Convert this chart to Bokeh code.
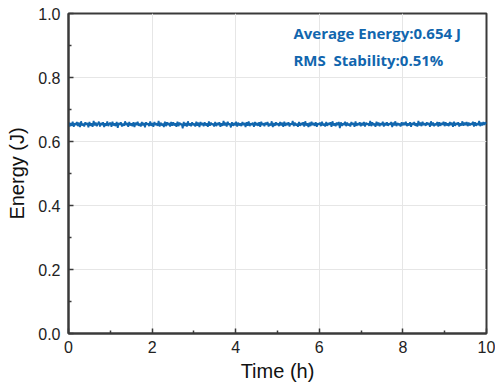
import numpy as np
from bokeh.plotting import figure
from bokeh.models import FixedTicker, PrintfTickFormatter, Range1d, Label
from bokeh.embed import file_html
from bokeh.resources import INLINE

# Pulse energy readings in mJ, sampled evenly across the 10 h run
energy_mJ = [
    660,647,658,649,662,646,657,651,661,648,659,645,663,650,656,647,660,652,658,644,
    661,649,657,646,664,650,659,648,655,662,647,658,651,660,645,657,649,663,648,656,
    659,646,662,650,657,648,661,643,658,652,660,647,656,649,663,651,658,646,661,650,
    657,648,660,645,659,651,662,649,656,647,661,650,658,644,660,652,657,648,663,649,
    658,646,661,651,657,649,664,647,659,650,656,645,662,648,660,651,658,647,661,649,
    660,650,657,646,662,648,659,652,656,641,661,649,658,647,663,650,657,648,660,651,
    656,647,662,649,659,645,661,651,658,648,660,650,657,646,663,649,659,652,656,647,
    661,648,658,651,660,646,657,649,664,650,659,647,662,652,656,644,660,649,658,650,
    662,647,659,650,657,648,661,651,658,645,660,649,663,648,657,651,659,646,661,650,
    658,649,660,646,662,651,657,648,659,652,661,647,656,650,663,645,658,649,660,651,
    657,648,661,650,659,646,662,649,658,651,660,647,657,652,664,648,659,650,656,646,
    661,649,658,651,660,647,663,650,657,645,659,648,662,651,658,649,660,646,657,652,
    659,648,662,650,656,647,661,649,658,652,660,646,663,650,657,648,659,651,661,642,
    660,649,657,651,662,648,659,650,656,647,661,652,658,646,663,649,657,651,660,648,
    658,650,661,647,659,652,657,649,664,648,660,651,656,646,662,650,659,648,657,651,
    662,647,658,650,660,649,657,652,661,645,659,650,663,648,658,651,656,647,660,650,
    659,651,662,648,657,650,660,646,658,652,661,649,657,647,664,650,659,648,662,651,
    657,649,660,652,658,646,663,650,659,648,656,651,661,647,660,649,658,652,662,648,
    660,650,657,648,661,651,659,646,662,649,658,652,660,647,657,650,663,649,659,651,
    661,648,659,650,657,652,662,647,660,649,658,651,664,648,659,650,661,652,660,655,
]
energy = [v / 1000.0 for v in energy_mJ]
time_h = np.linspace(0, 10, len(energy))

x_ticks = [0, 2, 4, 6, 8, 10]
x_minor = [1, 3, 5, 7, 9]
y_ticks = [0.0, 0.2, 0.4, 0.6, 0.8, 1.0]
y_minor = [0.1, 0.3, 0.5, 0.7, 0.9]
annot_lines = ["Average Energy:0.654 J", "RMS\u00a0 Stability:0.51%"]
annot_y = [0.907, 0.822]

BLUE = "#1166ae"
DARK = "#3a3a3a"
FONT = "Liberation Sans"

p = figure(width=495, height=386, output_backend="svg", toolbar_location=None,
           x_range=Range1d(0, 10), y_range=Range1d(0, 1.0),
           min_border_left=68, min_border_right=9, min_border_top=13, min_border_bottom=53)

p.line(time_h, energy, line_color=BLUE, line_width=1.8)

p.outline_line_color = DARK
p.outline_line_width = 2
p.background_fill_color = "white"
p.border_fill_color = "white"

for ax in (p.xaxis[0], p.yaxis[0]):
    ax.axis_line_color = DARK
    ax.axis_line_width = 2
    ax.major_tick_line_color = DARK
    ax.minor_tick_line_color = DARK
    ax.major_tick_line_width = 1.5
    ax.minor_tick_line_width = 1.5
    ax.major_tick_in = 5
    ax.major_tick_out = 0
    ax.minor_tick_in = 3
    ax.minor_tick_out = 0
    ax.major_label_text_font = FONT
    ax.major_label_text_font_size = "16px"
    ax.major_label_text_color = "#222222"
    ax.axis_label_text_font = FONT
    ax.axis_label_text_font_size = "20px"
    ax.axis_label_text_font_style = "normal"
    ax.axis_label_text_color = "#111111"

p.xaxis.ticker = FixedTicker(ticks=x_ticks, minor_ticks=x_minor)
p.yaxis.ticker = FixedTicker(ticks=y_ticks, minor_ticks=y_minor)
p.yaxis.formatter = PrintfTickFormatter(format="%.1f")
p.xaxis.major_label_standoff = 7
p.yaxis.major_label_standoff = 8
p.xaxis.axis_label = "Time (h)"
p.yaxis.axis_label = "Energy (J)"
p.xaxis.axis_label_standoff = 4
p.yaxis.axis_label_standoff = 7

p.xgrid.grid_line_color = "#e6e6e6"
p.ygrid.grid_line_color = "#e6e6e6"
p.xgrid.grid_line_width = 1
p.ygrid.grid_line_width = 1

for txt, yv in zip(annot_lines, annot_y):
    p.add_layout(Label(x=5.38, y=yv, text=txt, text_color=BLUE, text_font="Open Sans",
                       text_font_style="bold", text_font_size="15px"))

open("out.html", "w").write(file_html(p, INLINE))
